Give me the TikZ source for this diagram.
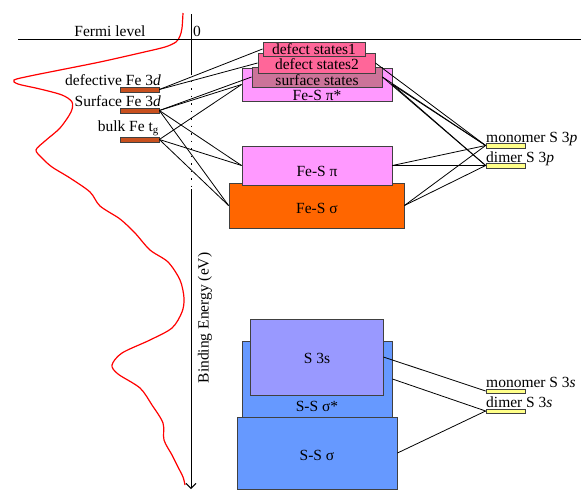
\documentclass[tikz,border=0pt]{standalone}
\usepackage{fontspec}
\setmainfont{Liberation Serif}
\usetikzlibrary{arrows.meta}
\definecolor{febar}{HTML}{C8501E}
\definecolor{pinkbox}{HTML}{FF99FF}
\definecolor{defcol}{HTML}{FF6699}
\definecolor{surfcol}{HTML}{CC7399}
\definecolor{sigmacol}{HTML}{FF6600}
\definecolor{sthreescol}{HTML}{9999FF}
\definecolor{sscol}{HTML}{6699FF}
\definecolor{ybar}{HTML}{FFFF88}
\definecolor{edgecol}{HTML}{404040}
\begin{document}
\begin{tikzpicture}[x=1pt,y=-1pt,
  font=\fontsize{15.5}{18}\selectfont,
  box/.style={draw=edgecol, line width=0.9pt, inner sep=0pt, rectangle},
  febar/.style={draw=black!75, fill=febar, line width=0.7pt, inner sep=0pt, minimum height=5pt, minimum width=39pt},
  sbar/.style={draw=black!75, fill=ybar, line width=0.7pt, inner sep=0pt, minimum height=5pt, minimum width=39pt},
  conn/.style={black, line width=0.8pt},
  lbl/.style={inner sep=0pt}]
\useasboundingbox (0,0) rectangle (581,490);

% DOS curve
\draw[red, line width=1.2pt] plot[smooth, tension=0.5] coordinates {
 (183,13) (182,28) (180,36) (176,42) (165,47) (140,53) (100,62) (60,70) (30,76) (14,80)
 (18,84) (40,89) (62,95) (72,102) (71,112) (60,128) (45,141) (36,150) (42,158) (52,167)
 (70,178) (90,192) (100,206) (120,219) (135,233) (150,250) (168,262) (180,280) (184,298)
 (182,312) (172,328) (150,340) (122,353) (112,365) (118,374) (140,388) (152,405) (163,423)
 (164,440) (172,455) (178,467) (183,477) (185,485)};

% Fermi level and axis
\draw[line width=0.9pt] (18,39) -- (581,39);
\node[lbl, anchor=base] (fermi) at (110,36.5) {Fermi level};
\node[lbl, anchor=base] (zero) at (197,36.5) {0};
\draw[line width=0.9pt] (191,14) -- (191,73);
\draw[line width=0.9pt, dash pattern=on 1.5pt off 6pt] (191,73) -- (191,189);
\draw[line width=0.9pt, -{Straight Barb[length=5pt,width=10pt]}] (191,189) -- (191,489);
\node[lbl, rotate=90] (be) at (205,318) {Binding Energy (eV)};

% Fe levels
\node[febar] (defbar) at (139.5,89.5) {};
\node[febar] (surfbar) at (139.5,110.5) {};
\node[febar] (bulkbar) at (139.5,139.5) {};
\node[lbl, anchor=base east] (deflbl) at (161,85) {defective Fe 3\textit{d}};
\node[lbl, anchor=base east] (surflbl) at (161,106) {Surface Fe 3\textit{d}};
\node[lbl, anchor=base east] (bulklbl) at (159,131.5) {bulk Fe t\textsubscript{g}};

% S levels
\node[sbar] (mono3p) at (505.5,145.5) {};
\node[sbar] (dimer3p) at (505.5,165.5) {};
\node[sbar, minimum height=4pt] (mono3s) at (505.5,391) {};
\node[sbar, minimum height=4pt] (dimer3s) at (505.5,411) {};
\node[lbl, anchor=base west] (mono3plbl) at (486,142.5) {monomer S 3\textit{p}};
\node[lbl, anchor=base west] (dimer3plbl) at (486,162.5) {dimer S 3\textit{p}};
\node[lbl, anchor=base west] (mono3slbl) at (486,387.5) {monomer S 3\textit{s}};
\node[lbl, anchor=base west] (dimer3slbl) at (486,407.5) {dimer S 3\textit{s}};

% Fe-S boxes
\node[box, fill=pinkbox, minimum width=150pt, minimum height=33pt] (pistar) at (317,84.5) {};
\node[box, fill=surfcol, minimum width=130pt, minimum height=20pt] (surf) at (317,77) {};
\node[box, fill=defcol, minimum width=117pt, minimum height=20pt] (ds2) at (316.5,63) {};
\node[box, fill=defcol, minimum width=102pt, minimum height=14pt] (ds1) at (314,49) {};
\node[lbl] (pistarlbl) at (317,95) {Fe-S π*};
\node[lbl] (surflbl2) at (317,80) {surface states};
\node[lbl] (ds2lbl) at (317,64) {defect states2};
\node[lbl] (ds1lbl) at (314,49) {defect states1};

\node[box, fill=sigmacol, minimum width=175pt, minimum height=45pt] (sigma) at (316.5,205.5) {};
\node[box, fill=pinkbox, minimum width=150pt, minimum height=39pt] (pi) at (317,165.5) {};
\node[lbl] (pilbl) at (317,171) {Fe-S π};
\node[lbl] (sigmalbl) at (317,208) {Fe-S σ};

% S-S boxes
\node[box, fill=sscol, minimum width=150pt, minimum height=76pt] (ssstar) at (317,379) {};
\node[box, fill=sthreescol, minimum width=133pt, minimum height=76pt] (sthrees) at (316.5,357) {};
\node[box, fill=sscol, minimum width=160pt, minimum height=72pt] (sss) at (317,453) {};
\node[lbl] (sthreeslbl) at (317,358) {S 3s};
\node[lbl] (ssstarlbl) at (317,406) {S-S σ*};
\node[lbl] (ssslbl) at (317,455) {S-S σ};

% connectors left
\draw[conn] (defbar.east) -- (ds1.west);
\draw[conn] (defbar.east) -- (ds2.west);
\draw[conn] (surfbar.east) -- (surf.west);
\draw[conn] (surfbar.east) -- (pistar.west);
\draw[conn] (surfbar.east) -- (pi.west);
\draw[conn] (surfbar.east) -- (sigma.west);
\draw[conn] (bulkbar.east) -- (pistar.west);
\draw[conn] (bulkbar.east) -- (pi.west);
\draw[conn] (bulkbar.east) -- (sigma.west);

% connectors right
\draw[conn] (ds2.east) -- (mono3p.west);
\draw[conn] (surf.east) -- (mono3p.west);
\draw[conn] (surf.east) -- (dimer3p.west);
\draw[conn] (pistar.east) -- (mono3p.west);
\draw[conn] (pistar.east) -- (dimer3p.west);
\draw[conn] (pi.east) -- (mono3p.west);
\draw[conn] (pi.east) -- (dimer3p.west);
\draw[conn] (sigma.east) -- (mono3p.west);
\draw[conn] (sigma.east) -- (dimer3p.west);

\draw[conn] (sthrees.east) -- (mono3s.west);
\draw[conn] (ssstar.east) -- (dimer3s.west);
\draw[conn] (sss.east) -- (dimer3s.west);
\end{tikzpicture}
\end{document}
